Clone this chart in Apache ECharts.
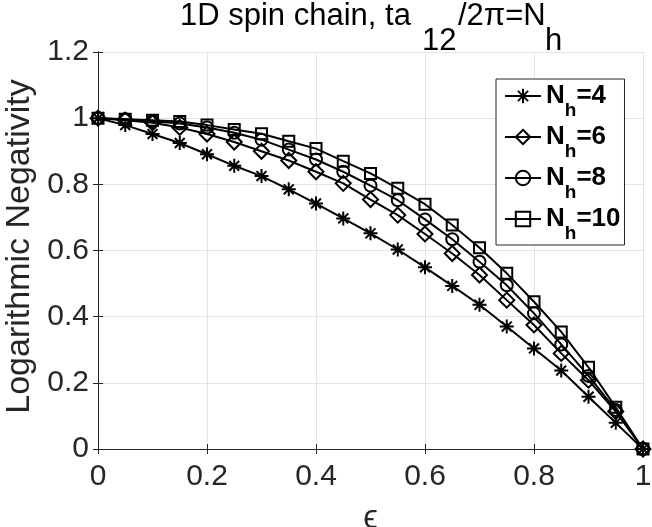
<!DOCTYPE html>
<html>
<head>
<meta charset="utf-8">
<script src="https://cdn.jsdelivr.net/npm/echarts@6/dist/echarts.min.js"></script>
<style>html,body{margin:0;padding:0;background:#fff}#c{width:652px;height:527px}</style>
</head>
<body>
<div id="c"></div>
<script>
const eps = [0, 0.05, 0.1, 0.15, 0.2, 0.25, 0.3, 0.35, 0.4, 0.45, 0.5, 0.55, 0.6, 0.65, 0.7, 0.75, 0.8, 0.85, 0.9, 0.95, 1.0];
const lnN4  = [1.0, 0.979, 0.952, 0.925, 0.891, 0.856, 0.825, 0.785, 0.742, 0.697, 0.652, 0.603, 0.549, 0.493, 0.436, 0.370, 0.304, 0.237, 0.158, 0.079, 0.0];
const lnN6  = [1.0, 0.994, 0.986, 0.972, 0.952, 0.928, 0.900, 0.872, 0.838, 0.803, 0.754, 0.707, 0.650, 0.591, 0.526, 0.450, 0.375, 0.289, 0.208, 0.113, 0.0];
const lnN8  = [1.0, 0.997, 0.991, 0.984, 0.972, 0.956, 0.935, 0.905, 0.875, 0.838, 0.796, 0.752, 0.694, 0.634, 0.566, 0.495, 0.410, 0.316, 0.221, 0.118, 0.0];
const lnN10 = [1.0, 0.997, 0.994, 0.990, 0.979, 0.966, 0.953, 0.930, 0.908, 0.870, 0.833, 0.788, 0.740, 0.677, 0.608, 0.531, 0.445, 0.354, 0.247, 0.126, 0.0];
const seriesNames = ['4', '6', '8', '10'];
const xTickLabels = ['0', '0.2', '0.4', '0.6', '0.8', '1'];
const yTickLabels = ['0', '0.2', '0.4', '0.6', '0.8', '1', '1.2'];
const titleParts = ['1D spin chain, ta', '12', '/2π=N', 'h'];

const FONT = 'Liberation Sans';
const AX = '#262626';
const star = 'path://M0,-10L0,10M-10,0L10,0M-7.07,-7.07L7.07,7.07M-7.07,7.07L7.07,-7.07';
const markers = [
  {symbol: star, size: 14},
  {symbol: 'diamond', size: 15},
  {symbol: 'circle', size: 12},
  {symbol: 'rect', size: 11}
];
const allData = [lnN4, lnN6, lnN8, lnN10];

// title pieces: main text and lowered subscripts (layout only)
const TSIZE = 31;
const titleLayout = [
  {x: 180, y: 16},
  {x: 422, y: 41},
  {x: 458, y: 16},
  {x: 545, y: 41}
];
const titleGraphics = titleParts.map((txt, i) => ({
  type: 'text', x: titleLayout[i].x, y: titleLayout[i].y, silent: true,
  style: {text: txt, fontSize: TSIZE, fontFamily: FONT, fill: '#000', align: 'left', verticalAlign: 'middle'}
}));

const chart = echarts.init(document.getElementById('c'), null, {renderer: 'canvas'});
const series = allData.map((vals, i) => ({
  name: seriesNames[i],
  type: 'line',
  data: eps.map((e, j) => [e, vals[j]]),
  symbol: markers[i].symbol,
  symbolSize: markers[i].size,
  showAllSymbol: true,
  lineStyle: {color: '#000', width: 2},
  itemStyle: {color: 'rgba(0,0,0,0)', borderColor: '#000', borderWidth: 2},
  emphasis: {disabled: true},
  z: 3 + i
}));

const axisCommon = {
  axisLine: {show: true, lineStyle: {color: AX, width: 1}},
  axisTick: {show: true, inside: true, length: 5, lineStyle: {color: AX}},
};

chart.setOption({
  animation: false,
  backgroundColor: '#fff',
  graphic: titleGraphics,
  grid: {left: 98, right: 9, top: 52, bottom: 78, containLabel: false, outerBoundsMode: 'none'},
  legend: {
    orient: 'vertical',
    left: 496, top: 79,
    padding: [4, 4, 2, 8],
    itemGap: 4,
    itemWidth: 36, itemHeight: 18,
    backgroundColor: '#fff',
    borderColor: AX, borderWidth: 1,
    formatter: (n) => '{n|N}{s|h}{n|=' + n + '}',
    textStyle: {
      fontFamily: FONT, fontSize: 26, fontWeight: 'bold', color: '#000',
      rich: {
        n: {fontFamily: FONT, fontSize: 26, fontWeight: 'bold', color: '#000', lineHeight: 26, verticalAlign: 'top'},
        s: {fontFamily: FONT, fontSize: 19, fontWeight: 'bold', color: '#000', lineHeight: 19, verticalAlign: 'top', padding: [18, 0, 0, 0]}
      }
    },
    data: seriesNames
  },
  xAxis: [
    Object.assign({
      type: 'value', position: 'bottom', min: 0, max: 1, interval: 0.2,
      name: 'ϵ', nameLocation: 'middle', nameGap: 53,
      nameTextStyle: {fontFamily: FONT, fontSize: 33, color: AX},
      axisLabel: {fontFamily: FONT, fontSize: 30, color: AX, margin: 13,
        formatter: (v) => xTickLabels[Math.round(v / 0.2)]},
      splitLine: {show: true, lineStyle: {color: '#e3e3e3', width: 1}}
    }, axisCommon),
    Object.assign({
      type: 'value', position: 'top', min: 0, max: 1, interval: 0.2,
      axisLabel: {show: false}, splitLine: {show: false}
    }, axisCommon)
  ],
  yAxis: [
    Object.assign({
      type: 'value', position: 'left', min: 0, max: 1.2, interval: 0.2,
      name: 'Logarithmic Negativity', nameLocation: 'middle', nameGap: 57, nameRotate: 90,
      nameTextStyle: {fontFamily: FONT, fontSize: 34, color: AX, padding: [0, 0, 0, 8]},
      axisLabel: {fontFamily: FONT, fontSize: 30, color: AX, margin: 9,
        formatter: (v) => yTickLabels[Math.round(v / 0.2)]},
      splitLine: {show: true, lineStyle: {color: '#e3e3e3', width: 1}}
    }, axisCommon),
    Object.assign({
      type: 'value', position: 'right', min: 0, max: 1.2, interval: 0.2,
      axisLabel: {show: false}, splitLine: {show: false}
    }, axisCommon)
  ],
  series: series
});
</script>
</body>
</html>
